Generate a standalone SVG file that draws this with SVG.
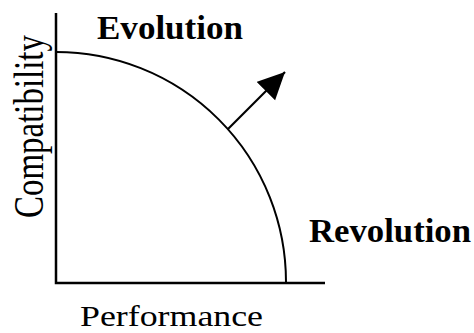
<svg xmlns="http://www.w3.org/2000/svg" width="474" height="333" viewBox="0 0 474 333">
<style>
.ax{stroke:#000;stroke-width:2.5;fill:none}
.cv{stroke:#000;stroke-width:2;fill:none}
.t{font-family:"Liberation Serif","Times New Roman",serif;fill:#000}
.b{font-weight:bold}
</style>
<defs>
<marker id="ah" markerUnits="userSpaceOnUse" markerWidth="28" markerHeight="28" refX="27" refY="13" orient="auto">
<path d="M0,0 L27,13 L0,26 Z" fill="#000"/>
</marker>
</defs>
<rect width="474" height="333" fill="#fff"/>
<g id="axes">
<path class="ax" d="M56,13 V283 H325"/>
</g>
<g id="curve">
<path class="cv" d="M56,52 A230,230 0 0 1 286,282"/>
</g>
<g id="connectors">
<line x1="228" y1="129" x2="285" y2="72" stroke="#000" stroke-width="2.2" marker-end="url(#ah)"/>
</g>
<g id="labels">
<text class="t b" x="97" y="39" font-size="33" textLength="146" lengthAdjust="spacingAndGlyphs">Evolution</text>
<text class="t b" x="309" y="242" font-size="33" textLength="162" lengthAdjust="spacingAndGlyphs">Revolution</text>
<text class="t" x="80" y="326" font-size="30" textLength="183" lengthAdjust="spacingAndGlyphs">Performance</text>
<text class="t" transform="translate(43,218) scale(1.25,1) rotate(-90)" font-size="33" textLength="183" lengthAdjust="spacingAndGlyphs">Compatibility</text>
</g>
</svg>
